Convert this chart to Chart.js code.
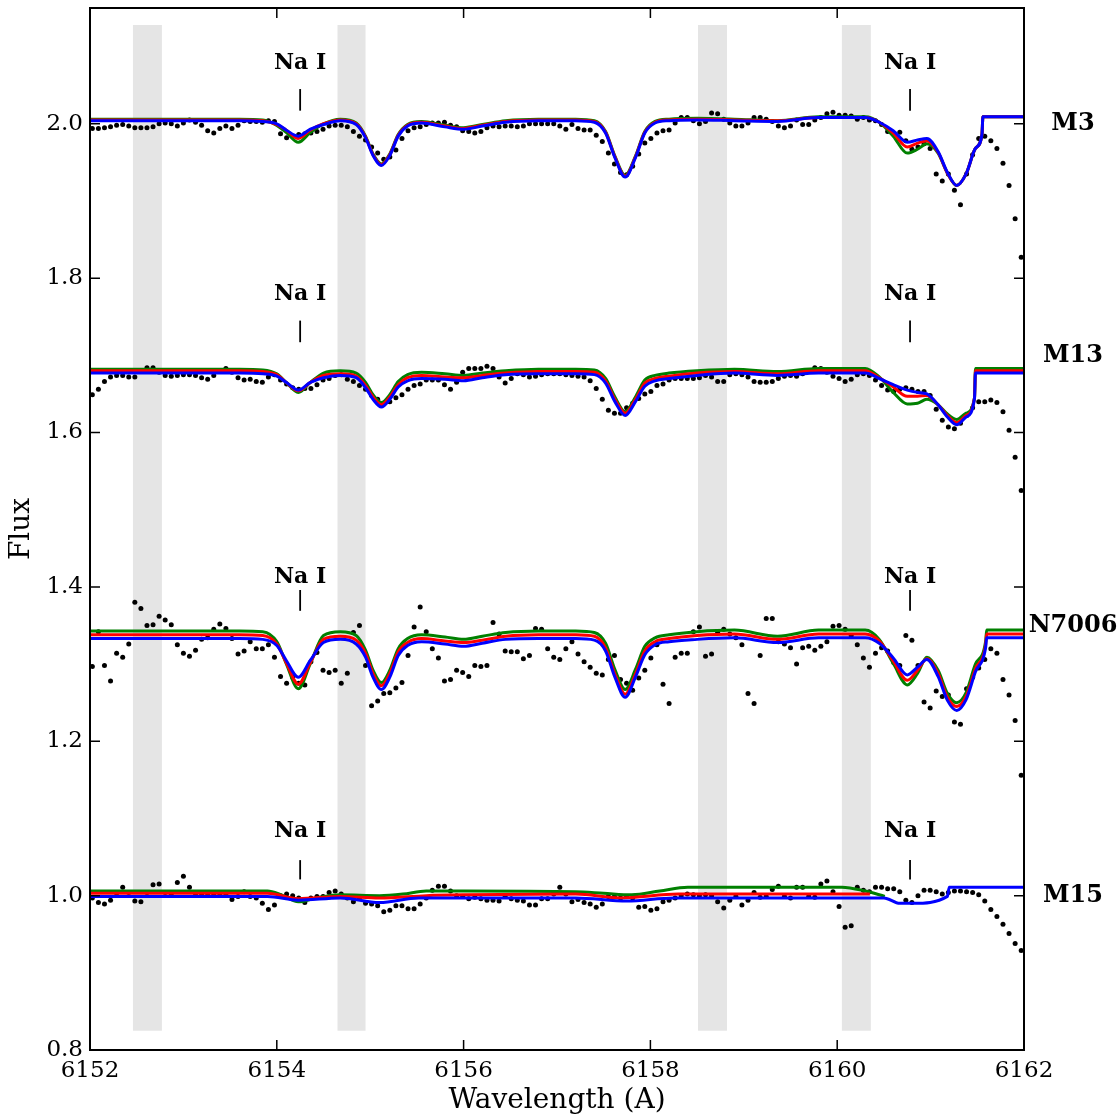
<!DOCTYPE html>
<html>
<head>
<meta charset="utf-8">
<title>Na I line fits</title>
<script src="https://cdn.jsdelivr.net/npm/chart.js@4.4.1/dist/chart.umd.min.js"></script>
<style>
  body { margin: 0; background: #ffffff; }
  #wrap { width: 1118px; height: 1118px; }
</style>
</head>
<body>
<div id="wrap"><canvas id="spectra" width="1118" height="1118"></canvas></div>
<script>
'use strict';

// observed spectra: one flux value per pixel of the shared wavelength grid
let dotWave = [
  6152.025, 6152.090, 6152.155, 6152.220, 6152.285, 6152.350, 6152.415, 6152.480, 6152.545, 6152.610,
  6152.675, 6152.740, 6152.805, 6152.870, 6152.935, 6153.000, 6153.065, 6153.130, 6153.195, 6153.260,
  6153.325, 6153.390, 6153.455, 6153.520, 6153.585, 6153.650, 6153.715, 6153.780, 6153.845, 6153.910,
  6153.975, 6154.040, 6154.105, 6154.170, 6154.235, 6154.300, 6154.365, 6154.430, 6154.495, 6154.560,
  6154.625, 6154.690, 6154.755, 6154.820, 6154.885, 6154.950, 6155.015, 6155.080, 6155.145, 6155.210,
  6155.275, 6155.340, 6155.405, 6155.470, 6155.535, 6155.600, 6155.665, 6155.730, 6155.795, 6155.860,
  6155.925, 6155.990, 6156.055, 6156.120, 6156.185, 6156.250, 6156.315, 6156.380, 6156.445, 6156.510,
  6156.575, 6156.640, 6156.705, 6156.770, 6156.835, 6156.900, 6156.965, 6157.030, 6157.095, 6157.160,
  6157.225, 6157.290, 6157.355, 6157.420, 6157.485, 6157.550, 6157.615, 6157.680, 6157.745, 6157.810,
  6157.875, 6157.940, 6158.005, 6158.070, 6158.135, 6158.200, 6158.265, 6158.330, 6158.395, 6158.460,
  6158.525, 6158.590, 6158.655, 6158.720, 6158.785, 6158.850, 6158.915, 6158.980, 6159.045, 6159.110,
  6159.175, 6159.240, 6159.305, 6159.370, 6159.435, 6159.500, 6159.565, 6159.630, 6159.695, 6159.760,
  6159.825, 6159.890, 6159.955, 6160.020, 6160.085, 6160.150, 6160.215, 6160.280, 6160.345, 6160.410,
  6160.475, 6160.540, 6160.605, 6160.670, 6160.735, 6160.800, 6160.865, 6160.930, 6160.995, 6161.060,
  6161.125, 6161.190, 6161.255, 6161.320, 6161.385, 6161.450, 6161.515, 6161.580, 6161.645, 6161.710,
  6161.775, 6161.840, 6161.905, 6161.970
];

let m3Flux = [
  1.994, 1.994, 1.995, 1.996, 1.998, 1.999, 1.997, 1.995, 1.995, 1.995,
  1.996, 2.000, 2.001, 2.000, 1.997, 2.001, 2.005, 2.002, 1.998, 1.991,
  1.988, 1.994, 1.997, 1.994, 1.998, 2.004, 2.003, 2.003, 2.002, 2.004,
  2.003, 1.987, 1.982, 1.984, 1.986, 1.987, 1.988, 1.990, 1.993, 1.997,
  1.998, 1.998, 1.996, 1.990, 1.984, 1.979, 1.970, 1.962, 1.954, 1.957,
  1.966, 1.981, 1.991, 1.995, 1.996, 1.999, 2.001, 2.001, 2.002, 1.998,
  1.996, 1.991, 1.990, 1.988, 1.990, 1.995, 1.997, 1.996, 1.997, 1.997,
  1.996, 1.997, 2.000, 2.000, 2.000, 2.000, 2.000, 1.997, 1.993, 1.999,
  1.994, 1.992, 1.992, 1.985, 1.977, 1.962, 1.948, 1.937, 1.934, 1.945,
  1.961, 1.975, 1.981, 1.988, 1.991, 1.992, 2.001, 2.008, 2.008, 2.004,
  2.000, 2.003, 2.014, 2.013, 2.006, 2.001, 1.997, 1.997, 2.001, 2.008,
  2.008, 2.006, 2.003, 1.997, 1.995, 1.997, 2.005, 1.999, 1.999, 2.005,
  2.008, 2.013, 2.015, 2.011, 2.011, 2.010, 2.006, 2.008, 2.005, 2.004,
  1.999, 1.990, 1.987, 1.989, 1.978, 1.967, 1.970, 1.974, 1.968, 1.935,
  1.926, 1.935, 1.914, 1.895, 1.935, 1.960, 1.981, 1.984, 1.978, 1.968,
  1.949, 1.920, 1.877, 1.827
];

let m13Flux = [
  1.649, 1.656, 1.666, 1.672, 1.674, 1.674, 1.672, 1.672, 1.680, 1.684,
  1.684, 1.678, 1.674, 1.673, 1.674, 1.675, 1.675, 1.674, 1.671, 1.669,
  1.674, 1.679, 1.683, 1.678, 1.671, 1.668, 1.669, 1.666, 1.665, 1.672,
  1.675, 1.668, 1.663, 1.658, 1.656, 1.657, 1.657, 1.662, 1.668, 1.670,
  1.674, 1.675, 1.669, 1.666, 1.661, 1.656, 1.648, 1.643, 1.637, 1.640,
  1.645, 1.649, 1.656, 1.661, 1.663, 1.668, 1.668, 1.668, 1.662, 1.656,
  1.665, 1.678, 1.683, 1.683, 1.683, 1.686, 1.683, 1.672, 1.664, 1.670,
  1.676, 1.675, 1.672, 1.673, 1.675, 1.676, 1.676, 1.676, 1.675, 1.674,
  1.673, 1.672, 1.667, 1.657, 1.643, 1.629, 1.625, 1.625, 1.632, 1.638,
  1.644, 1.650, 1.653, 1.661, 1.663, 1.668, 1.670, 1.670, 1.670, 1.670,
  1.671, 1.674, 1.672, 1.666, 1.666, 1.675, 1.676, 1.675, 1.672, 1.666,
  1.665, 1.665, 1.666, 1.670, 1.673, 1.674, 1.673, 1.676, 1.679, 1.684,
  1.683, 1.678, 1.673, 1.670, 1.666, 1.669, 1.675, 1.676, 1.674, 1.668,
  1.661, 1.655, 1.653, 1.656, 1.658, 1.656, 1.653, 1.653, 1.648, 1.630,
  1.616, 1.607, 1.605, 1.612, 1.622, 1.632, 1.640, 1.640, 1.642, 1.639,
  1.627, 1.603, 1.568, 1.525
];

let n7006Flux = [
  1.297, 1.342, 1.298, 1.278, 1.314, 1.309, 1.326, 1.380, 1.372, 1.350,
  1.351, 1.362, 1.357, 1.351, 1.325, 1.314, 1.310, 1.318, 1.332, 1.334,
  1.345, 1.352, 1.346, 1.333, 1.313, 1.317, 1.329, 1.320, 1.320, 1.325,
  1.309, 1.284, 1.275, 1.283, 1.275, 1.273, 1.303, 1.315, 1.292, 1.289,
  1.292, 1.275, 1.288, 1.341, 1.350, 1.298, 1.246, 1.252, 1.262, 1.263,
  1.269, 1.276, 1.311, 1.348, 1.374, 1.342, 1.320, 1.308, 1.278, 1.280,
  1.292, 1.289, 1.284, 1.298, 1.297, 1.298, 1.354, 1.339, 1.317, 1.316,
  1.316, 1.307, 1.311, 1.346, 1.345, 1.320, 1.309, 1.306, 1.320, 1.329,
  1.313, 1.303, 1.296, 1.288, 1.286, 1.306, 1.311, 1.280, 1.275, 1.266,
  1.282, 1.292, 1.308, 1.325, 1.274, 1.249, 1.309, 1.314, 1.314, 1.342,
  1.348, 1.310, 1.313, 1.341, 1.345, 1.339, 1.334, 1.325, 1.262, 1.249,
  1.311, 1.359, 1.359, 1.329, 1.326, 1.321, 1.300, 1.321, 1.323, 1.318,
  1.323, 1.329, 1.349, 1.350, 1.345, 1.337, 1.325, 1.308, 1.296, 1.314,
  1.321, 1.317, 1.302, 1.298, 1.337, 1.331, 1.298, 1.251, 1.243, 1.265,
  1.258, 1.260, 1.225, 1.222, 1.268, 1.283, 1.295, 1.306, 1.320, 1.314,
  1.280, 1.260, 1.227, 1.156
];

let m15Flux = [
  0.997, 0.991, 0.989, 0.994, 1.003, 1.011, 1.004, 0.993, 0.992, 1.004,
  1.014, 1.015, 1.004, 1.001, 1.017, 1.025, 1.011, 1.002, 1.002, 1.002,
  1.001, 1.002, 1.001, 0.995, 0.999, 1.005, 0.999, 0.997, 0.990, 0.982,
  0.988, 1.000, 1.002, 1.000, 0.997, 0.991, 0.997, 0.999, 0.999, 1.004,
  1.006, 1.002, 0.997, 0.992, 0.997, 0.990, 0.989, 0.987, 0.979, 0.981,
  0.987, 0.987, 0.983, 0.983, 0.989, 0.997, 1.007, 1.012, 1.012, 1.006,
  1.000, 0.999, 0.996, 0.998, 0.996, 0.994, 0.994, 0.993, 0.999, 0.996,
  0.994, 0.993, 0.988, 0.988, 0.996, 0.996, 1.002, 1.011, 1.002, 0.992,
  0.995, 0.991, 0.989, 0.985, 0.989, 0.999, 0.999, 0.997, 0.999, 0.997,
  0.985, 0.986, 0.981, 0.983, 0.992, 0.994, 0.997, 1.000, 1.002, 1.001,
  1.000, 1.001, 1.000, 0.992, 0.984, 0.994, 0.999, 0.988, 0.994, 1.004,
  0.998, 0.999, 1.008, 1.012, 0.999, 0.997, 1.011, 1.011, 0.999, 0.998,
  1.015, 1.019, 1.005, 0.986, 0.959, 0.961, 1.011, 1.007, 1.005, 1.011,
  1.011, 1.009, 1.009, 1.005, 0.994, 0.991, 1.000, 1.007, 1.007, 1.005,
  1.002, 1.004, 1.006, 1.006, 1.005, 1.004, 1.001, 0.993, 0.982, 0.973,
  0.963, 0.951, 0.938, 0.929
];

// synthetic spectra (green / red / blue), sampled at these wavelengths
let modelWave = [
  6152.0, 6152.4, 6153.0, 6153.6, 6153.85, 6154.0, 6154.1, 6154.23, 6154.36, 6154.5,
  6154.68, 6154.85, 6154.95, 6155.03, 6155.12, 6155.21, 6155.3, 6155.4, 6155.55, 6155.8,
  6156.0, 6156.2, 6156.45, 6156.8, 6157.2, 6157.4, 6157.52, 6157.62, 6157.73, 6157.84,
  6157.94, 6158.05, 6158.2, 6158.5, 6158.9, 6159.36, 6159.8, 6160.3, 6160.45, 6160.6,
  6160.75, 6160.86, 6160.96, 6161.08, 6161.18, 6161.28, 6161.38
];

let m3Tail = [6161.48, 6161.55, 6161.56, 6162.0];
let m3Green = [
  2.006, 2.006, 2.006, 2.006, 2.005, 1.998, 1.989, 1.976, 1.989, 2.000,
  2.006, 2.001, 1.984, 1.961, 1.948, 1.961, 1.986, 1.999, 2.003, 1.998,
  1.995, 1.999, 2.004, 2.006, 2.006, 2.004, 1.990, 1.958, 1.933, 1.958,
  1.990, 2.003, 2.006, 2.007, 2.006, 2.004, 2.009, 2.009, 2.002, 1.984,
  1.962, 1.967, 1.974, 1.962, 1.936, 1.920, 1.935,
  1.968, 1.986, 2.009, 2.009
];
let m3Red = [
  2.005, 2.005, 2.005, 2.005, 2.004, 1.999, 1.992, 1.981, 1.992, 2.000,
  2.005, 2.000, 1.983, 1.960, 1.947, 1.960, 1.985, 1.998, 2.002, 1.997,
  1.994, 1.998, 2.003, 2.005, 2.005, 2.003, 1.989, 1.957, 1.932, 1.957,
  1.989, 2.002, 2.005, 2.006, 2.005, 2.004, 2.008, 2.008, 2.002, 1.988,
  1.970, 1.975, 1.978, 1.963, 1.936, 1.920, 1.935,
  1.968, 1.986, 2.009, 2.009
];
let m3Blue = [
  2.004, 2.004, 2.004, 2.004, 2.003, 2.000, 1.992, 1.984, 1.993, 1.999,
  2.004, 1.999, 1.982, 1.959, 1.946, 1.959, 1.984, 1.997, 2.001, 1.996,
  1.993, 1.997, 2.002, 2.004, 2.004, 2.002, 1.988, 1.956, 1.931, 1.956,
  1.988, 2.001, 2.004, 2.005, 2.004, 2.003, 2.008, 2.008, 2.002, 1.991,
  1.976, 1.979, 1.981, 1.964, 1.937, 1.920, 1.935,
  1.968, 1.986, 2.009, 2.009
];

let m13Tail = [6161.47, 6161.48, 6162.0];
let m13Green = [
  1.682, 1.682, 1.682, 1.682, 1.681, 1.676, 1.665, 1.652, 1.665, 1.677,
  1.680, 1.677, 1.665, 1.649, 1.639, 1.649, 1.666, 1.675, 1.678, 1.676,
  1.674, 1.677, 1.680, 1.682, 1.682, 1.681, 1.670, 1.646, 1.627, 1.646,
  1.668, 1.674, 1.677, 1.680, 1.682, 1.679, 1.683, 1.683, 1.672, 1.652,
  1.637, 1.638, 1.643, 1.636, 1.624, 1.617, 1.625,
  1.645, 1.683, 1.683
];
let m13Red = [
  1.680, 1.680, 1.680, 1.680, 1.679, 1.675, 1.665, 1.654, 1.665, 1.674,
  1.676, 1.673, 1.661, 1.646, 1.636, 1.646, 1.662, 1.671, 1.674, 1.672,
  1.671, 1.674, 1.677, 1.679, 1.679, 1.678, 1.667, 1.643, 1.625, 1.643,
  1.664, 1.670, 1.673, 1.677, 1.679, 1.676, 1.680, 1.680, 1.671, 1.659,
  1.647, 1.647, 1.648, 1.636, 1.622, 1.613, 1.622,
  1.645, 1.680, 1.680
];
let m13Blue = [
  1.677, 1.677, 1.677, 1.677, 1.676, 1.673, 1.665, 1.655, 1.665, 1.671,
  1.674, 1.671, 1.658, 1.643, 1.633, 1.643, 1.659, 1.667, 1.670, 1.669,
  1.667, 1.671, 1.675, 1.676, 1.676, 1.675, 1.664, 1.640, 1.622, 1.640,
  1.660, 1.667, 1.670, 1.674, 1.677, 1.674, 1.677, 1.677, 1.670, 1.662,
  1.655, 1.652, 1.650, 1.636, 1.620, 1.610, 1.620,
  1.644, 1.677, 1.677
];

let n7006Tail = [6161.48, 6161.59, 6161.60, 6162.0];
let n7006Green = [
  1.343, 1.343, 1.343, 1.343, 1.342, 1.329, 1.301, 1.268, 1.301, 1.337,
  1.342, 1.337, 1.318, 1.292, 1.276, 1.292, 1.320, 1.333, 1.338, 1.335,
  1.332, 1.336, 1.341, 1.343, 1.343, 1.341, 1.327, 1.293, 1.267, 1.293,
  1.323, 1.334, 1.338, 1.342, 1.344, 1.336, 1.344, 1.344, 1.332, 1.301,
  1.273, 1.288, 1.309, 1.292, 1.262, 1.250, 1.263,
  1.300, 1.330, 1.344, 1.344
];
let n7006Red = [
  1.338, 1.338, 1.338, 1.338, 1.337, 1.326, 1.302, 1.274, 1.302, 1.332,
  1.336, 1.331, 1.314, 1.288, 1.272, 1.288, 1.316, 1.328, 1.333, 1.330,
  1.328, 1.331, 1.336, 1.338, 1.338, 1.336, 1.321, 1.287, 1.261, 1.287,
  1.317, 1.329, 1.333, 1.337, 1.339, 1.332, 1.339, 1.339, 1.330, 1.304,
  1.279, 1.292, 1.307, 1.288, 1.257, 1.245, 1.258,
  1.294, 1.326, 1.339, 1.339
];
let n7006Blue = [
  1.333, 1.333, 1.333, 1.333, 1.332, 1.324, 1.305, 1.283, 1.305, 1.328,
  1.332, 1.326, 1.309, 1.283, 1.267, 1.283, 1.311, 1.324, 1.329, 1.326,
  1.323, 1.327, 1.332, 1.333, 1.333, 1.331, 1.317, 1.283, 1.257, 1.283,
  1.312, 1.325, 1.329, 1.332, 1.334, 1.328, 1.334, 1.334, 1.327, 1.308,
  1.286, 1.296, 1.306, 1.284, 1.253, 1.240, 1.254,
  1.290, 1.322, 1.334, 1.334
];

// M15 models are much weaker and the green / red ones stop early
let m15GreenWave = [6152.0, 6153.9, 6154.05, 6154.23, 6154.42, 6154.68, 6155.1, 6155.35, 6155.6, 6156.0,
  6157.2, 6157.5, 6157.8, 6158.1, 6158.4, 6160.05, 6160.3, 6160.51];
let m15Green = [1.006, 1.006, 1.001, 0.992, 0.997, 1.001, 1.000, 1.002, 1.006, 1.006,
  1.005, 1.003, 1.001, 1.006, 1.011, 1.011, 1.006, 0.999];
let m15RedWave = [6152.0, 6153.9, 6154.23, 6154.68, 6155.1, 6155.6, 6156.0, 6157.2, 6157.68, 6158.3, 6160.35];
let m15Red = [1.003, 1.003, 0.996, 0.999, 0.997, 1.000, 1.001, 1.002, 0.997, 1.002, 1.002];
let m15BlueWave = [6152.0, 6153.9, 6154.23, 6154.68, 6155.1, 6155.52, 6156.0, 6157.2, 6157.75, 6158.25,
  6160.5, 6160.67, 6160.81, 6161.18, 6161.2, 6162.0];
let m15Blue = [0.999, 0.999, 0.994, 0.997, 0.991, 0.997, 0.997, 0.997, 0.993, 0.997,
  0.997, 0.990, 0.990, 0.999, 1.011, 1.011];

// grey continuum windows
let bandStart = [6152.46, 6154.65, 6158.51, 6160.05];
let bandEnd = [6152.77, 6154.95, 6158.82, 6160.36];
let bandFluxLow = 0.825;
let bandFluxHigh = 2.128;

// Na I markers and cluster names
let naWave = [6154.25, 6160.78];
let naTextFlux = [2.079, 1.779, 1.412, 1.083];
let naMarkTop = [2.045, 1.745, 1.396, 1.046];
let naMarkBottom = [2.017, 1.717, 1.369, 1.021];
let clusterNames = ['M3', 'M13', 'N7006', 'M15'];
let clusterFlux = [2.0, 1.70, 1.35, 1.0];

let xTicks = [6152, 6154, 6156, 6158, 6160, 6162];
let yTicks = [0.8, 1.0, 1.2, 1.4, 1.6, 1.8, 2.0];

let serif = '"DejaVu Serif", "Liberation Serif", serif';


function toPoints(xs, ys) {
  let pts = [];
  for (let i = 0; i < xs.length; i++) {
    pts.push({ x: xs[i], y: ys[i] });
  }
  return pts;
}

function dotSet(flux) {
  return {
    data: toPoints(dotWave, flux),
    showLine: false,
    pointRadius: 2.5,
    pointHoverRadius: 2.5,
    pointBackgroundColor: '#000000',
    pointBorderWidth: 0,
    order: 10
  };
}

function modelSet(xs, ys, color, order) {
  return {
    data: toPoints(xs, ys),
    borderColor: color,
    borderWidth: 3,
    pointRadius: 0,
    fill: false,
    cubicInterpolationMode: 'monotone',
    order: order
  };
}

let green = '#008000';
let red = '#ff0000';
let blue = '#0000ff';

let datasets = [
  dotSet(m3Flux), dotSet(m13Flux), dotSet(n7006Flux), dotSet(m15Flux),
  modelSet(modelWave.concat(m3Tail), m3Green, green, 3),
  modelSet(modelWave.concat(m3Tail), m3Red, red, 2),
  modelSet(modelWave.concat(m3Tail), m3Blue, blue, 1),
  modelSet(modelWave.concat(m13Tail), m13Green, green, 3),
  modelSet(modelWave.concat(m13Tail), m13Red, red, 2),
  modelSet(modelWave.concat(m13Tail), m13Blue, blue, 1),
  modelSet(modelWave.concat(n7006Tail), n7006Green, green, 3),
  modelSet(modelWave.concat(n7006Tail), n7006Red, red, 2),
  modelSet(modelWave.concat(n7006Tail), n7006Blue, blue, 1),
  modelSet(m15GreenWave, m15Green, green, 3),
  modelSet(m15RedWave, m15Red, red, 2),
  modelSet(m15BlueWave, m15Blue, blue, 1)
];

const bandPlugin = {
  id: 'bands',
  beforeDatasetsDraw(chart) {
    let ctx = chart.ctx;
    let x = chart.scales.x;
    let y = chart.scales.y;
    let top = y.getPixelForValue(bandFluxHigh);
    let bottom = y.getPixelForValue(bandFluxLow);
    ctx.save();
    ctx.fillStyle = '#e5e5e5';
    for (let i = 0; i < bandStart.length; i++) {
      let left = x.getPixelForValue(bandStart[i]);
      let right = x.getPixelForValue(bandEnd[i]);
      ctx.fillRect(left, top, right - left, bottom - top);
    }
    ctx.restore();
  }
};

// matplotlib style box with inward ticks, plus the text annotations
const framePlugin = {
  id: 'frame',
  afterDraw(chart) {
    let ctx = chart.ctx;
    let area = chart.chartArea;
    let x = chart.scales.x;
    let y = chart.scales.y;
    let tickLen = 10;

    ctx.save();
    ctx.strokeStyle = '#000000';
    ctx.lineWidth = 1.5;
    ctx.beginPath();
    for (let i = 0; i < xTicks.length; i++) {
      let px = x.getPixelForValue(xTicks[i]);
      ctx.moveTo(px, area.bottom);
      ctx.lineTo(px, area.bottom - tickLen);
      ctx.moveTo(px, area.top);
      ctx.lineTo(px, area.top + tickLen);
    }
    for (let i = 0; i < yTicks.length; i++) {
      let py = y.getPixelForValue(yTicks[i]);
      ctx.moveTo(area.left, py);
      ctx.lineTo(area.left + tickLen, py);
      ctx.moveTo(area.right, py);
      ctx.lineTo(area.right - tickLen, py);
    }
    ctx.stroke();

    ctx.lineWidth = 2;
    ctx.strokeRect(area.left, area.top, area.right - area.left, area.bottom - area.top);

    // Na I labels with their little marker lines
    ctx.fillStyle = '#000000';
    ctx.font = 'bold 22px ' + serif;
    ctx.textAlign = 'center';
    ctx.textBaseline = 'middle';
    ctx.lineWidth = 1.8;
    for (let p = 0; p < naTextFlux.length; p++) {
      for (let j = 0; j < naWave.length; j++) {
        let px = x.getPixelForValue(naWave[j]);
        ctx.fillText('Na I', px, y.getPixelForValue(naTextFlux[p]));
        ctx.beginPath();
        ctx.moveTo(px, y.getPixelForValue(naMarkTop[p]));
        ctx.lineTo(px, y.getPixelForValue(naMarkBottom[p]));
        ctx.stroke();
      }
    }

    // cluster names to the right of the box
    ctx.font = 'bold 24px ' + serif;
    for (let p = 0; p < clusterNames.length; p++) {
      ctx.fillText(clusterNames[p], area.right + 49, y.getPixelForValue(clusterFlux[p]));
    }
    ctx.restore();
  }
};

Chart.defaults.font.family = serif;
Chart.defaults.color = '#000000';

let ctx = document.getElementById('spectra');

new Chart(ctx, {
  type: 'line',
  data: { datasets: datasets },
  options: {
    responsive: false,
    animation: false,
    devicePixelRatio: 1,
    layout: { padding: { left: 0, right: 94, top: 8, bottom: 0 } },
    plugins: {
      legend: { display: false },
      tooltip: { enabled: false }
    },
    scales: {
      x: {
        type: 'linear',
        min: 6152,
        max: 6162,
        grid: { display: false, drawTicks: false },
        border: { display: false },
        ticks: {
          stepSize: 2,
          padding: 7,
          maxRotation: 0,
          font: { size: 23 },
          callback: function (value) { return String(value); }
        },
        title: { display: true, text: 'Wavelength (A)', font: { size: 28 }, padding: 0 },
        afterFit: function (scale) {
          scale.height = 68;
          scale.paddingLeft = 0;
          scale.paddingRight = 0;
        }
      },
      y: {
        type: 'linear',
        min: 0.8,
        max: 2.15,
        grid: { display: false, drawTicks: false },
        border: { display: false },
        ticks: {
          stepSize: 0.2,
          includeBounds: false,
          padding: 7,
          font: { size: 23 },
          callback: function (value) { return value.toFixed(1); }
        },
        title: { display: true, text: 'Flux', font: { size: 28 }, padding: { top: 5, bottom: 0 } },
        afterFit: function (scale) {
          scale.width = 90;
          scale.paddingTop = 0;
          scale.paddingBottom = 0;
        }
      }
    }
  },
  plugins: [bandPlugin, framePlugin]
});
</script>
</body>
</html>
